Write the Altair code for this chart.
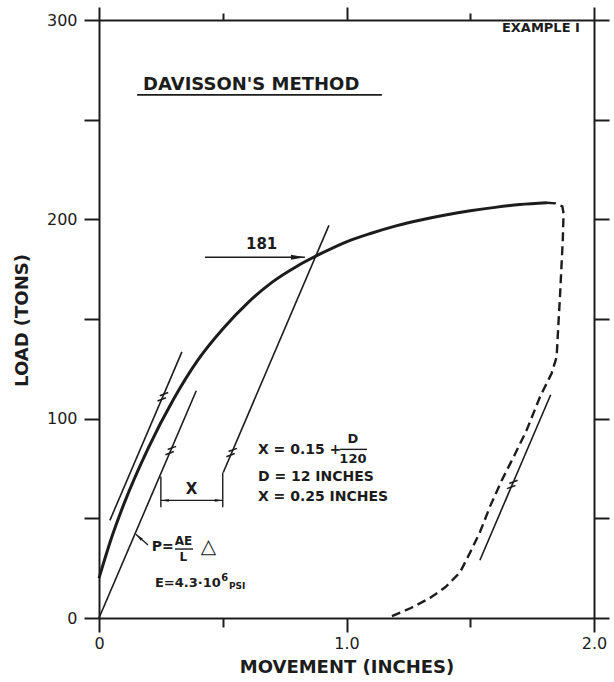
import altair as alt
import pandas as pd

FONT = "DejaVu Sans"
INK = "#1c1c1c"

# ---- data -----------------------------------------------------------------
# loading curve (thick solid)
LOAD_X = [0.0, 0.05, 0.10, 0.20, 0.30, 0.40, 0.50, 0.60, 0.70, 0.80, 0.90,
          1.00, 1.10, 1.20, 1.30, 1.40, 1.50, 1.60, 1.70, 1.81]
LOAD_Y = [20, 40, 57, 85.5, 109.5, 129.5, 145, 158, 168.5, 176.5, 183,
          188.7, 193, 196.7, 199.7, 202.2, 204.3, 206, 207.4, 208.3]

# unloading curve (dashed)
UNLOAD_X = [1.81, 1.845, 1.872, 1.877, 1.874, 1.868, 1.862, 1.856, 1.849, 1.829,
            1.782, 1.727, 1.68, 1.627, 1.58, 1.539, 1.50, 1.459, 1.40, 1.337, 1.26, 1.18]
UNLOAD_Y = [208.3, 208, 206.5, 203, 190, 175, 160, 147, 131, 122.8,
            111, 94, 82, 69, 56, 43, 33, 23, 15.5, 10, 5, 0.8]

# parallel straight lines: elastic line, reload tangent, offset line, rebound line
LINE_X1 = [0.0, 0.044, 0.502, 1.539]
LINE_Y1 = [0, 49, 73, 29]
LINE_X2 = [0.393, 0.335, 0.929, 1.825]
LINE_Y2 = [114, 133.5, 197, 112]

# "parallel" marks (//) on those lines
MARK_X = [0.290, 0.258, 0.536, 1.670]
MARK_Y = [84, 111, 83, 67]

# X offset dimension
DIM_X = [0.25, 0.5]
DIM_Y1 = [55.5, 55.5]
DIM_Y2 = [71, 73]
DIM_LEVEL = 59

# 181 arrow
ARROW181_X = [0.428, 0.832]
ARROW181_Y = 181

# title underline and fraction bars
UNDERLINE_X = [0.154, 1.143]
UNDERLINE_Y = 262.4
FRAC_AE_X = [0.307, 0.380]
FRAC_AE_Y = 34.6
FRAC_D_X = [0.974, 1.083]
FRAC_D_Y = 84.6
P_ARROW_X = [0.198, 0.149]
P_ARROW_Y = [36.6, 42.0]

X_MAJOR = [0, 1, 2]
X_MINOR = [0.5, 1.5]
Y_TICKS = [0, 50, 100, 150, 200, 250, 300]

TEXT_CENTER = [
    ("181", 0.657, 187.5, 15),
    ("X", 0.374, 64.5, 15),
    ("D", 1.026, 90.0, 13),
    ("120", 1.026, 79.8, 13),
    ("AE", 0.341, 38.8, 12),
    ("L", 0.341, 30.5, 12),
    ("\u25b3", 0.442, 35.8, 20),
]
TEXT_LEFT = [
    ("X = 0.15 +", 0.642, 84.3, 14),
    ("D = 12 INCHES", 0.642, 70.7, 14),
    ("X = 0.25 INCHES", 0.642, 60.7, 14),
    ("P=", 0.213, 35.5, 14),
    ("E=4.3\u00b710", 0.226, 17.5, 13),
    ("6", 0.494, 20.2, 10),
    ("PSI", 0.525, 16.3, 9),
    ("DAVISSON'S  METHOD", 0.178, 267.4, 18),
]
TEXT_RIGHT = [("EXAMPLE I", 1.943, 296, 13)]

# ---- tables ------------------------------------------------------------------
load_df = pd.DataFrame({"x": LOAD_X, "y": LOAD_Y})
unload_df = pd.DataFrame({"x": UNLOAD_X, "y": UNLOAD_Y, "o": range(len(UNLOAD_X))})

segs = []
for a, b, c, d in zip(LINE_X1, LINE_Y1, LINE_X2, LINE_Y2):
    segs.append((a, b, c, d, 1.6))
for cx, cy in zip(MARK_X, MARK_Y):
    for s in (-1, 1):
        mx, my = cx + s * 0.0045, cy + s * 1.3
        segs.append((mx - 0.017, my - 0.8, mx + 0.017, my + 0.8, 1.5))
for dx, y1, y2 in zip(DIM_X, DIM_Y1, DIM_Y2):
    segs.append((dx, y1, dx, y2, 1.4))
segs.append((DIM_X[0], DIM_LEVEL, DIM_X[1], DIM_LEVEL, 1.3))
segs.append((ARROW181_X[0], ARROW181_Y, ARROW181_X[1], ARROW181_Y, 1.5))
segs.append((UNDERLINE_X[0], UNDERLINE_Y, UNDERLINE_X[1], UNDERLINE_Y, 1.8))
segs.append((FRAC_AE_X[0], FRAC_AE_Y, FRAC_AE_X[1], FRAC_AE_Y, 1.4))
segs.append((FRAC_D_X[0], FRAC_D_Y, FRAC_D_X[1], FRAC_D_Y, 1.4))
segs.append((P_ARROW_X[0], P_ARROW_Y[0], P_ARROW_X[1], P_ARROW_Y[1], 1.3))
seg_df = pd.DataFrame(segs, columns=["x", "y", "x2", "y2", "w"])

heads_df = pd.DataFrame({
    "x": [ARROW181_X[1], DIM_X[0], DIM_X[1], P_ARROW_X[1]],
    "y": [ARROW181_Y, DIM_LEVEL, DIM_LEVEL, P_ARROW_Y[1]],
    "a": [0, 180, 0, 222],
    "s": [196, 64, 64, 64],
})

def tdf(rows):
    return pd.DataFrame(rows, columns=["t", "x", "y", "fs"])

# ---- scales and axes -----------------------------------------------------------
xs = alt.Scale(domain=[0, 2], nice=False, zero=False)
ys = alt.Scale(domain=[0, 300], nice=False, zero=False)

ax = dict(grid=False, domainColor=INK, domainWidth=2, tickColor=INK, tickWidth=2,
          labelFont=FONT, labelColor=INK, titleFont=FONT, titleColor=INK,
          titleFontWeight="bold", labelFlush=False, labelOverlap=False)

x_bottom = alt.Axis(orient="bottom", values=X_MAJOR, tickSize=14, labelFontSize=16,
                    labelPadding=3,
                    labelExpr="datum.value == 0 ? '0' : format(datum.value, '.1f')",
                    title="MOVEMENT  (INCHES)", titleFontSize=18, titleY=49,
                    titleBaseline="middle", **ax)
x_bottom_minor = alt.Axis(orient="bottom", values=X_MINOR, tickSize=9, labels=False,
                          domain=False, title=None, **ax)
x_top = alt.Axis(orient="top", values=X_MAJOR, tickSize=13, labels=False, title=None, **ax)
x_top_minor = alt.Axis(orient="top", values=X_MINOR, tickSize=7, labels=False,
                       domain=False, title=None, **ax)
y_left = alt.Axis(orient="left", values=Y_TICKS, tickSize=15, labelFontSize=16,
                  labelPadding=7,
                  labelExpr="datum.value % 100 == 0 ? datum.label : ''",
                  title="LOAD  (TONS)", titleFontSize=18, titleX=-77, titleY=300,
                  titleBaseline="middle", titleAlign="center", **ax)
y_right = alt.Axis(orient="right", values=Y_TICKS, tickSize=15, labels=False,
                   title=None, **ax)

# ---- layers --------------------------------------------------------------------
main = alt.Chart(load_df).mark_line(color=INK, strokeWidth=3, interpolate="monotone").encode(
    x=alt.X("x:Q", scale=xs, axis=x_bottom),
    y=alt.Y("y:Q", scale=ys, axis=y_left),
)
dashed = alt.Chart(unload_df).mark_line(color=INK, strokeWidth=2.4, strokeDash=[9, 5]).encode(
    x=alt.X("x:Q", scale=xs, axis=x_bottom_minor),
    y=alt.Y("y:Q", scale=ys, axis=y_right),
    order="o:Q",
)
rules = alt.Chart(seg_df).mark_rule(color=INK).encode(
    x=alt.X("x:Q", scale=xs, axis=x_top),
    y=alt.Y("y:Q", scale=ys, axis=None),
    x2="x2:Q", y2="y2:Q",
    strokeWidth=alt.StrokeWidth("w:Q", scale=None, legend=None),
)
heads = alt.Chart(heads_df).mark_point(
    shape="M0,0L-2,-0.36L-2,0.36Z", filled=True, color=INK, opacity=1
).encode(
    x=alt.X("x:Q", scale=xs, axis=x_top_minor),
    y=alt.Y("y:Q", scale=ys, axis=None),
    angle=alt.Angle("a:Q", scale=None),
    size=alt.Size("s:Q", scale=None, legend=None),
)

def texts(rows, align, weight="bold"):
    return alt.Chart(tdf(rows)).mark_text(
        font=FONT, color=INK, align=align, baseline="middle", fontWeight=weight
    ).encode(
        x=alt.X("x:Q", scale=xs, axis=None),
        y=alt.Y("y:Q", scale=ys, axis=None),
        text="t:N",
        size=alt.Size("fs:Q", scale=None, legend=None),
    )

chart = alt.layer(
    main, dashed, rules, heads,
    texts(TEXT_CENTER, "center"),
    texts(TEXT_LEFT, "left"),
    texts(TEXT_RIGHT, "right"),
).resolve_axis(x="independent", y="independent").properties(
    width=495, height=598,
    padding={"left": 99, "top": 20, "right": 20, "bottom": 64},
    autosize=alt.AutoSizeParams(type="none"),
    background="white",
).configure_view(stroke=None)

chart.save("out.html", embed_options={"renderer": "svg", "actions": False})
